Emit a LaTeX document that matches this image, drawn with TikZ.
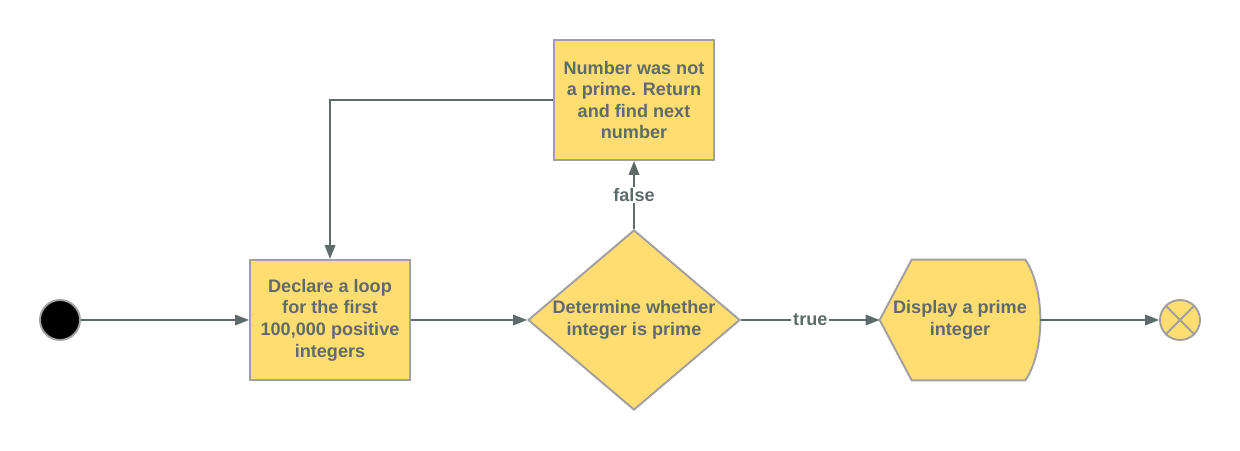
\documentclass[tikz,border=0pt]{standalone}
\usepackage{fontspec}
\setmainfont{Liberation Sans}
\usepackage{tikz}
\usetikzlibrary{arrows.meta}
\usetikzlibrary{calc}
\usetikzlibrary{shapes.geometric}

\definecolor{boxfill}{HTML}{FFDD71}
\definecolor{boxline}{HTML}{A0A0A0}
\definecolor{flowline}{HTML}{5F6B6B}

\tikzset{
	action/.style={rectangle, draw=boxline, fill=boxfill, line width=1.1pt,
		minimum width=3.2cm, minimum height=2.4cm, align=center,
		text=flowline, font=\fontsize{10.3}{12.3}\selectfont\bfseries},
	decision/.style={diamond, draw=boxline, fill=boxfill, line width=1.1pt, inner sep=0pt,
		aspect=1.18, minimum width=4.24cm, minimum height=3.6cm, align=center,
		text=flowline, font=\fontsize{10.3}{12.3}\selectfont\bfseries},
	display/.style={rectangle, minimum width=3.2cm, minimum height=2.4cm, align=center,
		text=flowline, font=\fontsize{10.3}{12.3}\selectfont\bfseries},
	flow/.style={draw=flowline, line width=1.1pt, -{Triangle[length=2.8mm,width=2.1mm]}},
	flowlabel/.style={fill=white, inner sep=1pt, text=flowline,
		font=\fontsize{10.3}{12}\selectfont\bfseries},
}

\begin{document}
\begin{tikzpicture}
	\useasboundingbox (0,0) rectangle (24.8,9);
	
	\node[circle, fill=black, draw=boxline, line width=1.1pt, minimum size=0.8cm, inner sep=0pt] (start) at (1.2,2.6) {};
	\node[action] (declare) at (6.6,2.6) {Declare a loop\\for the first\\100,000 positive\\integers};
	\node[decision] (isprime) at (12.68,2.6) {Determine whether\\integer is prime};
	\node[action] (notprime) at (12.68,7.0) {Number was not\\a prime. Return\\and find next\\number};
	\node[display] (show) at (19.2,2.6) {};
	\draw[draw=boxline, fill=boxfill, line width=1.1pt] (show.west) -- ($(show.north west)+(0.64,0)$) -- ($(show.north east)+(-0.3,0)$)
		.. controls ($(show.north east)+(0.1,-0.6)$) and ($(show.south east)+(0.1,0.6)$) .. ($(show.south east)+(-0.3,0)$)
		-- ($(show.south west)+(0.64,0)$) -- cycle;
	\node[display] (showtext) at (show.center) {Display a prime\\integer};
	\node[circle, fill=boxfill, draw=boxline, line width=1.1pt, minimum size=0.8cm, inner sep=0pt] (stop) at (23.6,2.6) {};
	\draw[boxline, line width=1.1pt] (stop.north west) -- (stop.south east);
	\draw[boxline, line width=1.1pt] (stop.south west) -- (stop.north east);
	
	\draw[flow] (start) -- (declare);
	\draw[flow] (declare) -- (isprime);
	\draw[flow] (isprime) -- node[flowlabel] {true} (show.west);
	\draw[flow] (isprime.north) -- node[flowlabel] {false} (notprime);
	\draw[flow] (notprime.west) -| (declare.north);
	\draw[flow] (show.east) -- (stop);
\end{tikzpicture}
\end{document}
